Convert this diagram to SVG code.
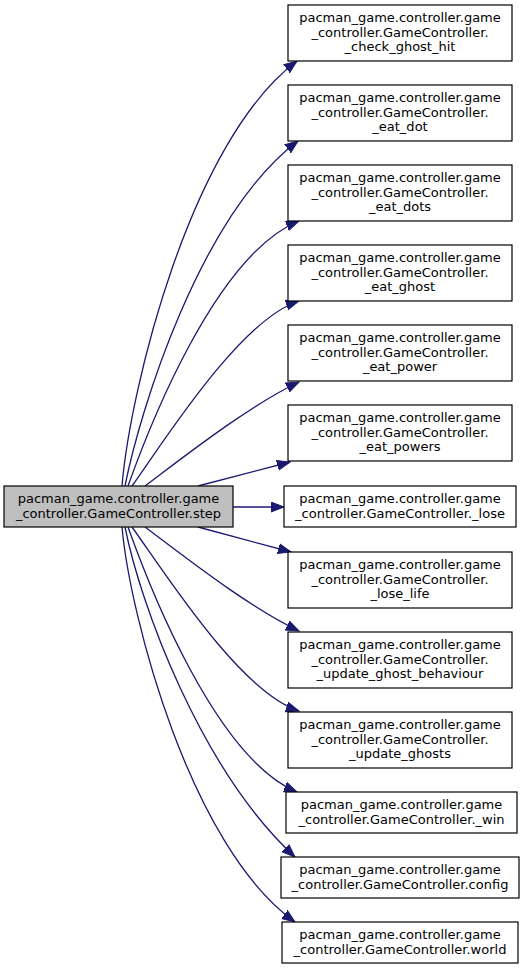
<svg xmlns="http://www.w3.org/2000/svg" width="525" height="970" viewBox="0 0 525 970">
<style>
.n rect{fill:#fff;stroke:#000;stroke-width:1.2}
.n.src rect{fill:#bfbfbf}
.n text{font-family:"DejaVu Sans",sans-serif;font-size:13px;text-anchor:middle;fill:#000}
.e path{fill:none;stroke:#191970;stroke-width:1.3;marker-end:url(#ah)}
</style>
<defs>
<marker id="ah" markerUnits="userSpaceOnUse" markerWidth="15" markerHeight="12" refX="13" refY="5.5" orient="auto">
<path d="M0,0.5 L13,5.5 L0,10.5 z" fill="#191970" stroke="#191970" stroke-width="1"/>
</marker>
</defs>
<rect width="525" height="970" fill="#fff"/>
<g id="edges" class="e">
<path d="M122,486 C130,390 190,141 297,61"/>
<path d="M125,486 C140,410 200,215 298,141"/>
<path d="M128,486 C148,430 215,255 299,221"/>
<path d="M132,486 C165,440 240,320 299,301"/>
<path d="M145,486 C185,456 250,405 299,382"/>
<path d="M198,486 L290,462"/>
<path d="M233,507 L284,507"/>
<path d="M198,527 L291,552"/>
<path d="M145,527 C185,557 250,608 299,631"/>
<path d="M132,527 C165,573 240,692 299,711"/>
<path d="M128,527 C148,583 215,758 297,792"/>
<path d="M125,527 C140,603 200,769 295,857"/>
<path d="M122,527 C130,616 190,847 295,922"/>
</g>
<g id="step" class="n src"><rect x="4" y="486" width="229" height="41"/><text x="118.5" y="503">pacman_game.controller.game</text><text x="118.5" y="517.5">_controller.GameController.step</text></g>
<g id="check_ghost_hit" class="n"><rect x="288" y="5" width="224" height="56"/><text x="400" y="22">pacman_game.controller.game</text><text x="400" y="36.5">_controller.GameController.</text><text x="400" y="51">_check_ghost_hit</text></g>
<g id="eat_dot" class="n"><rect x="288" y="85" width="224" height="56"/><text x="400" y="102">pacman_game.controller.game</text><text x="400" y="116.5">_controller.GameController.</text><text x="400" y="131">_eat_dot</text></g>
<g id="eat_dots" class="n"><rect x="288" y="165" width="224" height="56"/><text x="400" y="182">pacman_game.controller.game</text><text x="400" y="196.5">_controller.GameController.</text><text x="400" y="211">_eat_dots</text></g>
<g id="eat_ghost" class="n"><rect x="288" y="245" width="224" height="56"/><text x="400" y="262">pacman_game.controller.game</text><text x="400" y="276.5">_controller.GameController.</text><text x="400" y="291">_eat_ghost</text></g>
<g id="eat_power" class="n"><rect x="288" y="325" width="224" height="56"/><text x="400" y="342">pacman_game.controller.game</text><text x="400" y="356.5">_controller.GameController.</text><text x="400" y="371">_eat_power</text></g>
<g id="eat_powers" class="n"><rect x="288" y="405" width="224" height="56"/><text x="400" y="422">pacman_game.controller.game</text><text x="400" y="436.5">_controller.GameController.</text><text x="400" y="451">_eat_powers</text></g>
<g id="lose" class="n"><rect x="284" y="486" width="232" height="41"/><text x="400" y="503">pacman_game.controller.game</text><text x="400" y="517.5">_controller.GameController._lose</text></g>
<g id="lose_life" class="n"><rect x="288" y="552" width="224" height="56"/><text x="400" y="569">pacman_game.controller.game</text><text x="400" y="583.5">_controller.GameController.</text><text x="400" y="598">_lose_life</text></g>
<g id="update_ghost_behaviour" class="n"><rect x="288" y="632" width="224" height="56"/><text x="400" y="649">pacman_game.controller.game</text><text x="400" y="663.5">_controller.GameController.</text><text x="400" y="678">_update_ghost_behaviour</text></g>
<g id="update_ghosts" class="n"><rect x="288" y="712" width="224" height="56"/><text x="400" y="729">pacman_game.controller.game</text><text x="400" y="743.5">_controller.GameController.</text><text x="400" y="758">_update_ghosts</text></g>
<g id="win" class="n"><rect x="286" y="792" width="231" height="41"/><text x="401.5" y="809">pacman_game.controller.game</text><text x="401.5" y="823.5">_controller.GameController._win</text></g>
<g id="config" class="n"><rect x="281" y="857" width="238" height="41"/><text x="400" y="874">pacman_game.controller.game</text><text x="400" y="888.5">_controller.GameController.config</text></g>
<g id="world" class="n"><rect x="282" y="922" width="236" height="41"/><text x="400" y="939">pacman_game.controller.game</text><text x="400" y="953.5">_controller.GameController.world</text></g>
</svg>
